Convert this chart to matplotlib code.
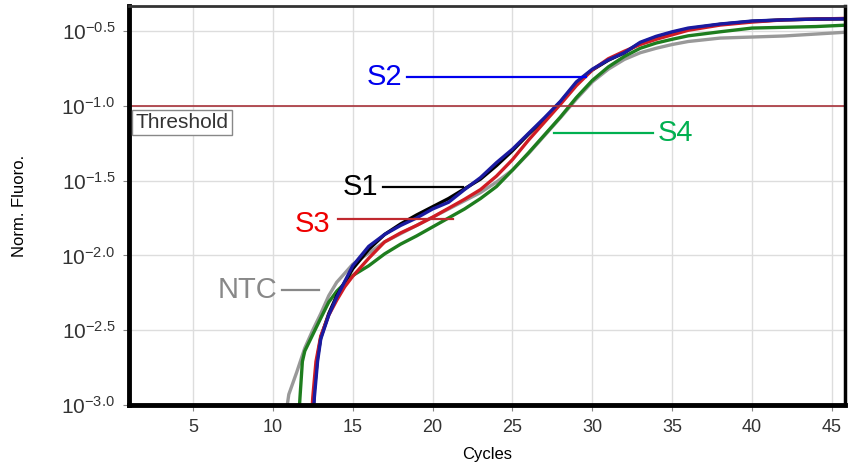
import numpy as np
import matplotlib
matplotlib.use('Agg')
import matplotlib.pyplot as plt

plt.rcParams['font.family'] = ['Liberation Sans', 'DejaVu Sans']
plt.rcParams['mathtext.fontset'] = 'custom'
plt.rcParams['mathtext.rm'] = 'Liberation Sans'
plt.rcParams['mathtext.it'] = 'Liberation Sans'

# log10(Norm. Fluoro.) for each curve
ntc_cyc = [10.5, 11, 11.5, 12, 12.5, 13, 13.5, 14, 15, 16, 17, 18, 19, 20, 21, 22, 23, 24, 25, 26,
           27, 28, 29, 30, 31, 32, 33, 34, 35, 36, 38, 40, 42, 44, 46]
ntc_log = [-3.3, -2.93, -2.78, -2.62, -2.50, -2.39, -2.27, -2.18, -2.06, -1.985, -1.91, -1.855,
           -1.80, -1.745, -1.69, -1.635, -1.58, -1.51, -1.43, -1.32, -1.20, -1.08, -0.955, -0.84,
           -0.755, -0.69, -0.645, -0.615, -0.59, -0.57, -0.547, -0.54, -0.533, -0.52, -0.507]

s4_cyc = [11.5, 11.7, 11.85, 12, 12.5, 13, 13.5, 14, 15, 16, 17, 18, 19, 20, 21, 22, 23, 24, 25, 26,
          27, 28, 29, 30, 31, 32, 33, 34, 35, 36, 38, 40, 42, 44, 46]
s4_log = [-3.3, -2.95, -2.71, -2.64, -2.53, -2.42, -2.313, -2.24, -2.135, -2.07, -1.99, -1.925,
          -1.87, -1.81, -1.75, -1.69, -1.62, -1.54, -1.43, -1.315, -1.195, -1.075, -0.945, -0.83,
          -0.74, -0.67, -0.615, -0.58, -0.555, -0.532, -0.505, -0.48, -0.475, -0.47, -0.46]

s3_cyc = [12.3, 12.5, 12.7, 13, 13.5, 14, 14.5, 15, 16, 17, 18, 19, 20, 21, 22, 23, 24, 25, 26,
          27, 28, 29, 30, 31, 32, 33, 34, 35, 36, 38, 40, 42, 44, 46]
s3_log = [-3.3, -2.95, -2.71, -2.54, -2.40, -2.30, -2.21, -2.14, -2.02, -1.91, -1.85, -1.80,
          -1.745, -1.685, -1.625, -1.56, -1.47, -1.36, -1.23, -1.11, -0.99, -0.865, -0.76,
          -0.685, -0.635, -0.59, -0.555, -0.525, -0.495, -0.46, -0.44, -0.425, -0.42, -0.415]

s1_cyc = [12.4, 12.6, 12.8, 13, 13.5, 14, 15, 16, 17, 18, 19, 20, 21, 22, 23, 24, 25, 26,
          27, 28, 29, 30, 31, 32, 33, 34, 35, 36, 38, 40, 42, 44, 46]
s1_log = [-3.3, -2.9, -2.68, -2.55, -2.39, -2.27, -2.09, -1.96, -1.86, -1.79, -1.73, -1.675,
          -1.62, -1.555, -1.49, -1.40, -1.30, -1.19, -1.09, -0.975, -0.85, -0.76, -0.695,
          -0.645, -0.58, -0.54, -0.51, -0.485, -0.455, -0.435, -0.425, -0.42, -0.418]

s2_cyc = [12.4, 12.6, 12.8, 13, 13.5, 14, 15, 16, 17, 18, 19, 20, 21, 22, 23, 24, 25, 26,
          27, 28, 29, 30, 31, 32, 33, 34, 35, 36, 38, 40, 42, 44, 46]
s2_log = [-3.3, -2.95, -2.71, -2.56, -2.40, -2.28, -2.07, -1.94, -1.86, -1.80, -1.75, -1.69,
          -1.645, -1.56, -1.48, -1.38, -1.29, -1.185, -1.08, -0.97, -0.84, -0.755, -0.693,
          -0.645, -0.575, -0.535, -0.505, -0.48, -0.453, -0.433, -0.425, -0.42, -0.418]

threshold = 10 ** -1.0
y_ticks_log = [-3.0, -2.5, -2.0, -1.5, -1.0, -0.5]
x_ticks = [5, 10, 15, 20, 25, 30, 35, 40, 45]

fig = plt.figure(figsize=(8.49, 4.67), dpi=100)
ax = fig.add_axes([0.152, 0.133, 0.843, 0.854])

ax.plot(ntc_cyc, 10 ** np.array(ntc_log), color='#999999', lw=2.4)
ax.plot(s4_cyc, 10 ** np.array(s4_log), color='#1e7d1e', lw=2.4)
ax.plot(s1_cyc, 10 ** np.array(s1_log), color='black', lw=2.4)
ax.plot(s3_cyc, 10 ** np.array(s3_log), color='#d01c24', lw=2.4)
ax.plot(s2_cyc, 10 ** np.array(s2_log), color='#1a1aa0', lw=2.4)

ax.axhline(threshold, color='#a8323a', lw=1.2)
ax.text(1.4, 10 ** -1.05, 'Threshold', fontsize=15, color='#333333', va='top', ha='left',
        bbox=dict(boxstyle='square,pad=0.15', fc='white', ec='#888888', lw=1))

ax.set_yscale('log')
ax.set_xlim(1, 45.8)
ax.set_ylim(10 ** -3.0, 10 ** -0.333)
ax.set_yticks([10 ** v for v in y_ticks_log])
ax.set_yticklabels(['$10^{%.1f}$' % v for v in y_ticks_log])
ax.yaxis.set_minor_locator(matplotlib.ticker.NullLocator())
ax.set_xticks(x_ticks)
ax.tick_params(axis='y', labelsize=15, colors='#333333', length=4, color='#888888', pad=6)
ax.tick_params(axis='x', labelsize=13, colors='#333333', length=4, color='#888888', pad=6)
ax.grid(True, color='#dddddd', lw=1)

for side in ['left', 'bottom']:
    ax.spines[side].set_linewidth(3.5)
    ax.spines[side].set_color('black')
ax.spines['right'].set_linewidth(2.5)
ax.spines['top'].set_linewidth(2)
ax.spines['top'].set_color('#333333')

ax.set_xlabel('Cycles', fontsize=12, labelpad=8)
ax.set_ylabel('Norm. Fluoro.', fontsize=12, labelpad=25)

lab = dict(fontsize=21, va='center')
# label lines
ax.plot([18.4, 29.6], [10 ** -0.807] * 2, color='#0000ee', lw=1.6)
ax.text(18.1, 10 ** -0.807, 'S2', color='#0000ee', ha='right', **lab)
ax.plot([27.6, 33.8], [10 ** -1.18] * 2, color='#00b050', lw=1.6)
ax.text(34.1, 10 ** -1.18, 'S4', color='#00b050', ha='left', **lab)
ax.plot([16.9, 21.9], [10 ** -1.54] * 2, color='black', lw=1.6)
ax.text(16.6, 10 ** -1.54, 'S1', color='black', ha='right', **lab)
ax.plot([14.1, 21.3], [10 ** -1.76] * 2, color='#c0292f', lw=1.6)
ax.text(13.6, 10 ** -1.79, 'S3', color='#ee0000', ha='right', **lab)
ax.plot([10.6, 12.9], [10 ** -2.233] * 2, color='#888888', lw=1.6)
ax.text(10.3, 10 ** -2.233, 'NTC', color='#888888', ha='right', **lab)

plt.savefig('out.png', dpi=100)
